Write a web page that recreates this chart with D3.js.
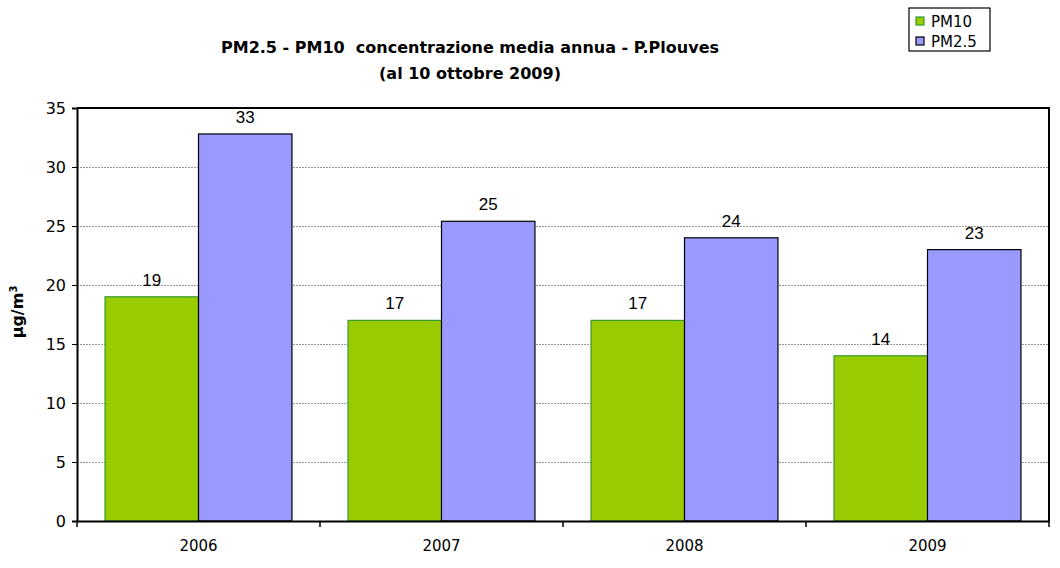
<!DOCTYPE html>
<html lang="en">
<head>
	<meta charset="utf-8">
	<title>PM2.5 - PM10 P.Plouves</title>
	<script src="https://d3js.org/d3.v7.min.js" charset="utf-8"></script>
	<style>
		body { margin: 0; background: #fff; }
	</style>
</head>
<body>
	<script>
		// data
		var years = ["2006", "2007", "2008", "2009"];
		var seriesNames = ["PM10", "PM2.5"];
		var pm10 = [19, 17, 17, 14];
		var pm25 = [32.8, 25.4, 24.0, 23.0];
		var yTicks = [0, 5, 10, 15, 20, 25, 30, 35];
		var colors = ["#99cc00", "#9999ff"];
		var strokes = ["#339933", "#000000"];

		var w = 1060, h = 568;
		// plot area edges (can't call it "top", window.top is taken)
		var pLeft = 77, pRight = 1049, pTop = 108, pBottom = 521;

		var svg = d3.select("body").append("svg")
			.attr("width", w)
			.attr("height", h)
			.style("font-family", "'DejaVu Sans', Verdana, sans-serif");

		var x0 = d3.scaleBand().domain(years).range([pLeft, pRight]).padding(0);
		var x1 = d3.scaleBand().domain(seriesNames).range([0, x0.bandwidth()])
			.paddingInner(0).paddingOuter(0.3);
		var y = d3.scaleLinear().domain([0, 35]).range([pBottom, pTop]);

		// gridlines
		svg.append("g").selectAll("line")
			.data(yTicks.filter(function(t) { return t > 0 && t < 35; }))
			.enter().append("line")
			.attr("x1", pLeft).attr("x2", pRight)
			.attr("y1", function(d) { return y(d) + 0.5; })
			.attr("y2", function(d) { return y(d) + 0.5; })
			.attr("stroke", "#999")
			.attr("stroke-width", 1)
			.attr("stroke-dasharray", "2,1");

		// top and right border of the plot
		svg.append("path")
			.attr("d", "M" + pLeft + "," + pTop + "H" + pRight + "V" + pBottom)
			.attr("fill", "none")
			.attr("stroke", "#000")
			.attr("stroke-width", 2);

		var rows = years.map(function(yr, i) {
			return { year: yr, vals: [pm10[i], pm25[i]] };
		});

		var groups = svg.selectAll(".grp")
			.data(rows)
			.enter().append("g")
			.attr("class", "grp")
			.attr("transform", function(d) { return "translate(" + x0(d.year) + ",0)"; });

		groups.selectAll("rect")
			.data(function(d) { return d.vals.map(function(v, k) { return { name: seriesNames[k], v: v, k: k }; }); })
			.enter().append("rect")
			.attr("x", function(d) { return x1(d.name); })
			.attr("y", function(d) { return y(d.v); })
			.attr("width", x1.bandwidth())
			.attr("height", function(d) { return y(0) - y(d.v); })
			.attr("fill", function(d) { return colors[d.k]; })
			.attr("stroke", function(d) { return strokes[d.k]; })
			.attr("stroke-width", 1.2);

		groups.selectAll("text")
			.data(function(d) { return d.vals.map(function(v, k) { return { name: seriesNames[k], v: v }; }); })
			.enter().append("text")
			.attr("x", function(d) { return x1(d.name) + x1.bandwidth() / 2; })
			.attr("y", function(d) { return y(d.v) - 11; })
			.attr("text-anchor", "middle")
			.style("font-family", "'Liberation Sans', Arial, sans-serif")
			.style("font-size", "17px")
			.text(function(d) { return Math.round(d.v); });

		// axes
		var yAxis = d3.axisLeft(y).tickValues(yTicks).tickSize(5).tickPadding(6);
		var gy = svg.append("g").attr("transform", "translate(" + pLeft + ",0)").call(yAxis);
		gy.select(".domain").attr("stroke-width", 2);
		gy.selectAll("text").style("font-size", "16px").style("font-family", "'DejaVu Sans', Verdana, sans-serif").attr("fill", "#000");

		var xAxis = d3.axisBottom(x0).tickSize(0).tickPadding(19);
		var gx = svg.append("g").attr("transform", "translate(0," + pBottom + ")").call(xAxis);
		gx.select(".domain").attr("stroke-width", 2);
		gx.selectAll("text").style("font-size", "15px").style("font-family", "'DejaVu Sans', Verdana, sans-serif").attr("fill", "#000");
		// category separator ticks
		gx.append("g").selectAll("line")
			.data(years.concat(["end"]))
			.enter().append("line")
			.attr("x1", function(d, i) { return i < years.length ? x0(d) : pRight; })
			.attr("x2", function(d, i) { return i < years.length ? x0(d) : pRight; })
			.attr("y1", 0).attr("y2", 6)
			.attr("stroke", "#000").attr("stroke-width", 1.5);

		// y label
		var yl = svg.append("text")
			.attr("transform", "translate(23,312) rotate(-90)")
			.attr("text-anchor", "middle")
			.style("font-size", "16px")
			.style("font-weight", "bold");
		yl.append("tspan").text("µg/m");
		yl.append("tspan").attr("dy", -6).style("font-size", "10px").text("3");

		// title
		svg.append("text")
			.attr("x", 470).attr("y", 53)
			.attr("text-anchor", "middle")
			.style("font-size", "16px").style("font-weight", "bold")
			.attr("xml:space", "preserve")
			.text("PM2.5 - PM10  concentrazione media annua - P.Plouves");
		svg.append("text")
			.attr("x", 470).attr("y", 79)
			.attr("text-anchor", "middle")
			.style("font-size", "16px").style("font-weight", "bold")
			.text("(al 10 ottobre 2009)");

		// legend
		var lg = svg.append("g").attr("transform", "translate(909,8)");
		lg.append("rect").attr("width", 81).attr("height", 43)
			.attr("fill", "#fff").attr("stroke", "#000").attr("stroke-width", 1.2);
		seriesNames.forEach(function(n, i) {
			lg.append("rect").attr("x", 7).attr("y", 9 + i * 20).attr("width", 8).attr("height", 8)
				.attr("fill", colors[i]).attr("stroke", strokes[i]).attr("stroke-width", 1.2);
			lg.append("text").attr("x", 22).attr("y", 19 + i * 20)
				.style("font-size", "15px").text(n);
		});
	</script>
</body>
</html>
